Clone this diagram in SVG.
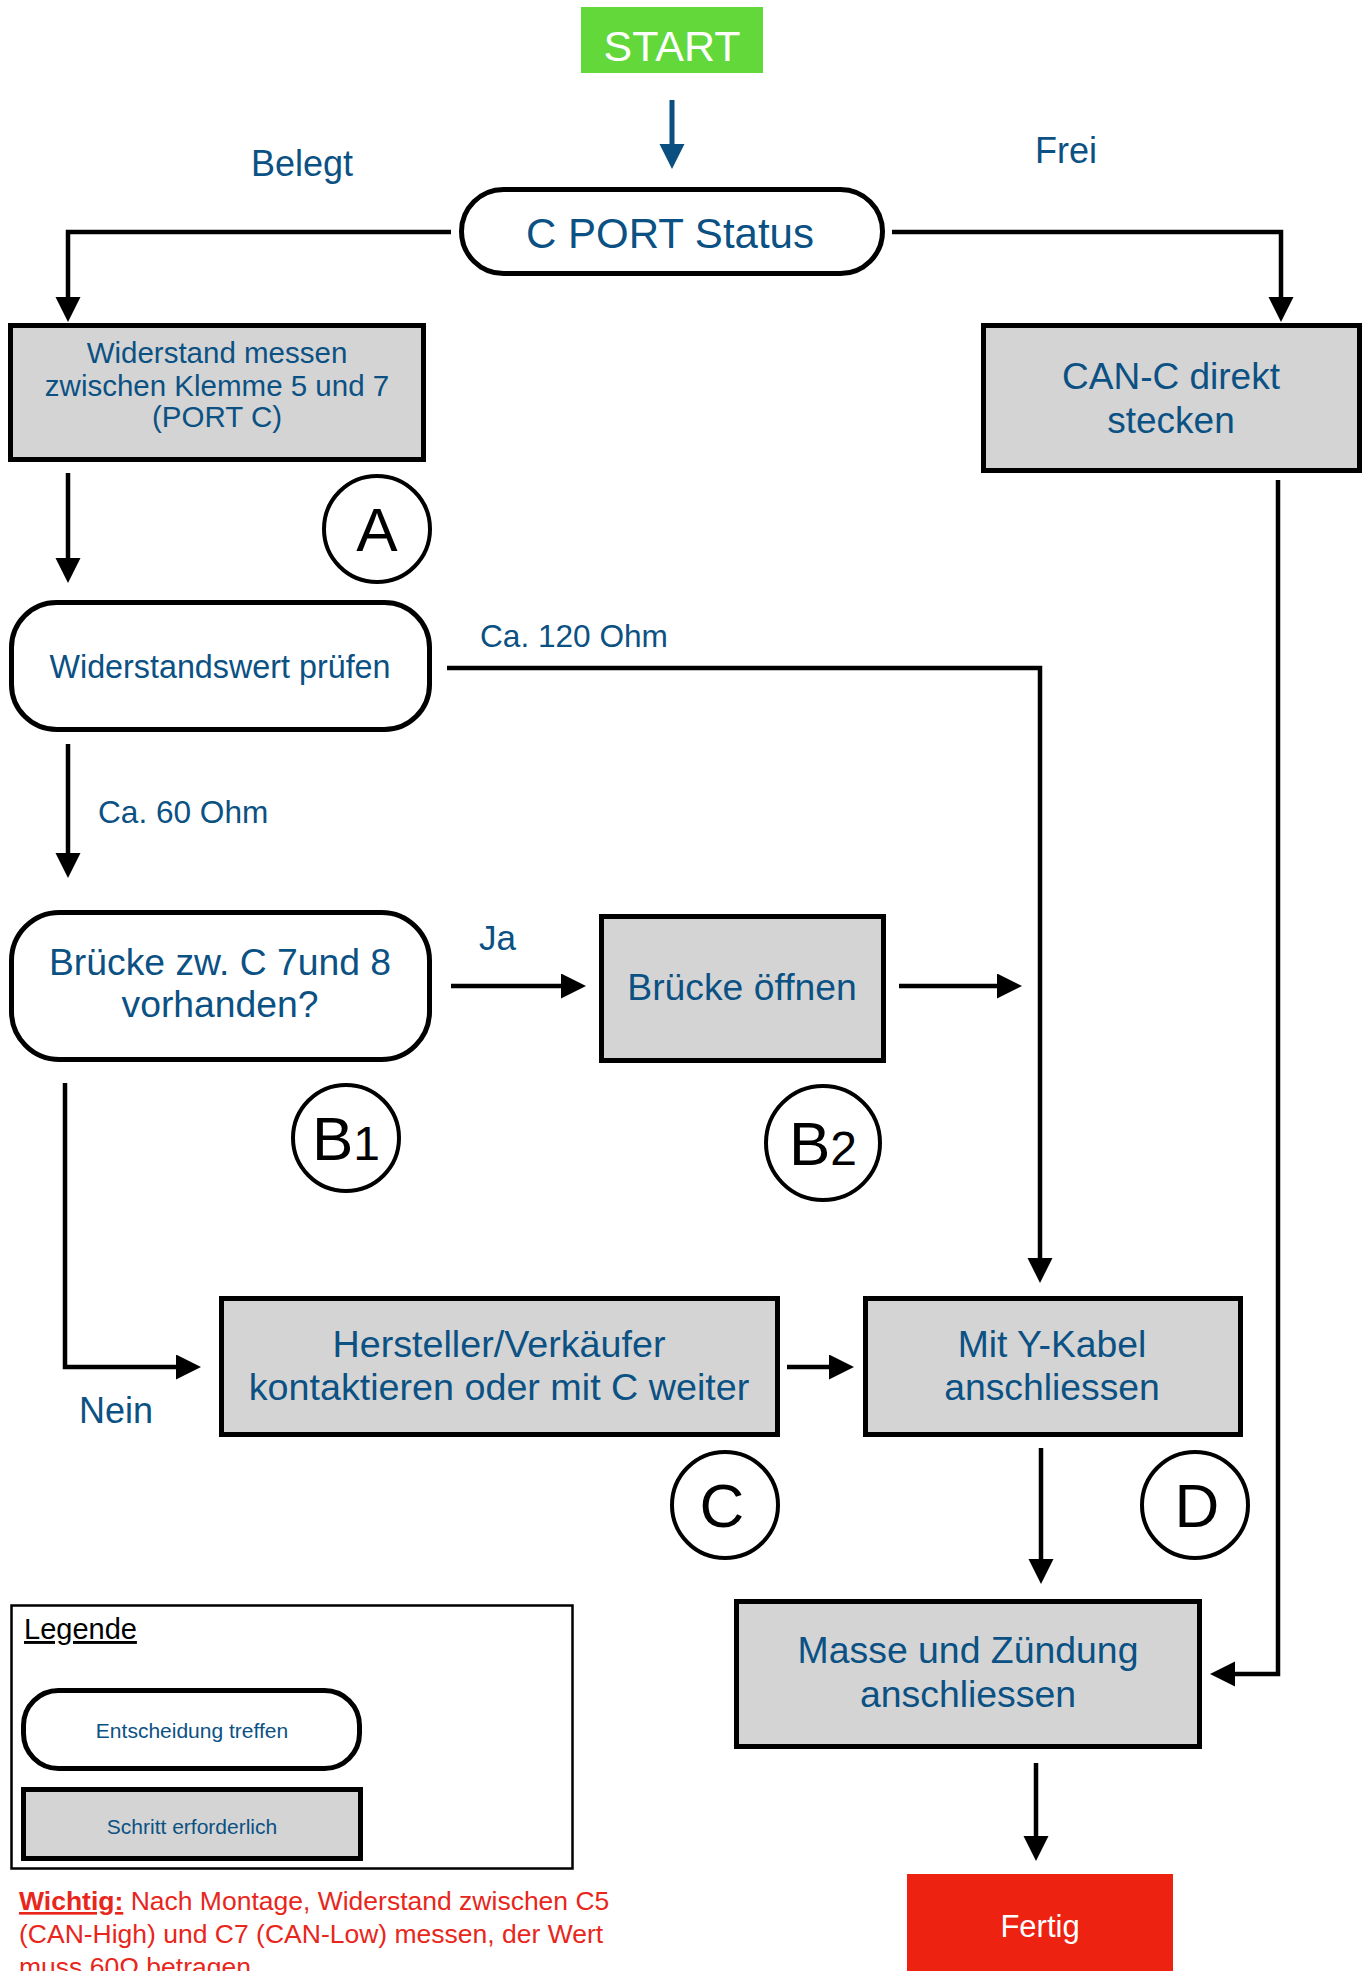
<svg xmlns="http://www.w3.org/2000/svg" width="1368" height="1971" viewBox="0 0 1368 1971">
<style>
text{font-family:"Liberation Sans",Arial,Helvetica,sans-serif;}
.t{fill:#0b5183;text-anchor:middle;}
.lbl{fill:#0b5183;}
.box{fill:#d4d4d4;stroke:#000;stroke-width:5;}
.dec{fill:#fff;stroke:#000;stroke-width:5;}
.circ{fill:#fff;stroke:#000;stroke-width:4;}
.ct{fill:#000;text-anchor:middle;font-size:62px;}
.con{fill:none;stroke:#000;stroke-width:4.5;}
</style>
<defs>
<marker id="ah" markerUnits="userSpaceOnUse" markerWidth="26" markerHeight="26" refX="15" refY="12.5" orient="auto">
<path d="M0,0 L25,12.5 L0,25 z" fill="#000"/>
</marker>
<marker id="ahb" markerUnits="userSpaceOnUse" markerWidth="26" markerHeight="26" refX="15" refY="12.5" orient="auto">
<path d="M0,0 L25,12.5 L0,25 z" fill="#0b4f80"/>
</marker>
</defs>

<g id="connectors">
<path d="M672,100 V159" fill="none" stroke="#0b4f80" stroke-width="5" marker-end="url(#ahb)"/>
<path class="con" d="M451,232 H68 V312" marker-end="url(#ah)"/>
<path class="con" d="M892,232 H1281 V312" marker-end="url(#ah)"/>
<path class="con" d="M68,473 V573" marker-end="url(#ah)"/>
<path class="con" d="M68,744 V868" marker-end="url(#ah)"/>
<path class="con" d="M447,668 H1040 V1273" marker-end="url(#ah)"/>
<path class="con" d="M451,986 H576" marker-end="url(#ah)"/>
<path class="con" d="M899,986 H1012" marker-end="url(#ah)"/>
<path class="con" d="M65,1083 V1367 H191" marker-end="url(#ah)"/>
<path class="con" d="M787,1367 H844" marker-end="url(#ah)"/>
<path class="con" d="M1041,1448 V1574" marker-end="url(#ah)"/>
<path class="con" d="M1278,480 V1674 H1220" marker-end="url(#ah)"/>
<path class="con" d="M1036,1763 V1851" marker-end="url(#ah)"/>
<text class="lbl" x="251" y="176" font-size="36">Belegt</text>
<text class="lbl" x="1035" y="163" font-size="36">Frei</text>
<text class="lbl" x="480" y="647" font-size="31.6">Ca. 120 Ohm</text>
<text class="lbl" x="98" y="823" font-size="31.6">Ca. 60 Ohm</text>
<text class="lbl" x="479" y="950" font-size="35">Ja</text>
<text class="lbl" x="79" y="1423" font-size="36">Nein</text>
</g>

<g id="start">
<rect x="581" y="7" width="182" height="66" fill="#62d83a"/>
<text x="672" y="61" font-size="43" fill="#fff" text-anchor="middle">START</text>
</g>

<g id="cport">
<rect class="dec" x="461.5" y="189.5" width="421" height="84" rx="42"/>
<text class="t" x="670" y="248" font-size="42">C PORT Status</text>
</g>

<g id="messen">
<rect class="box" x="10.5" y="325.5" width="413" height="134"/>
<text class="t" font-size="29.5"><tspan x="217" y="363">Widerstand messen</tspan><tspan x="217" y="396">zwischen Klemme 5 und 7</tspan><tspan x="217" y="427">(PORT C)</tspan></text>
</g>

<g id="canc">
<rect class="box" x="983.5" y="325.5" width="376" height="145"/>
<text class="t" font-size="37"><tspan x="1171" y="389">CAN-C direkt</tspan><tspan x="1171" y="433">stecken</tspan></text>
</g>

<g id="circleA">
<circle class="circ" cx="377" cy="529" r="53"/>
<text class="ct" x="377" y="551">A</text>
</g>

<g id="pruefen">
<rect class="dec" x="11.5" y="602.5" width="418" height="127" rx="45"/>
<text class="t" x="220" y="678" font-size="32.3">Widerstandswert prüfen</text>
</g>

<g id="bruecke">
<rect class="dec" x="11.5" y="912.5" width="418" height="147" rx="48"/>
<text class="t" font-size="37.3"><tspan x="220" y="975">Brücke zw. C 7und 8</tspan><tspan x="220" y="1017">vorhanden?</tspan></text>
</g>

<g id="oeffnen">
<rect class="box" x="601.5" y="916.5" width="282" height="144"/>
<text class="t" x="742" y="1000" font-size="37.3">Brücke öffnen</text>
</g>

<g id="circleB1">
<circle class="circ" cx="346" cy="1138" r="53"/>
<text class="ct" x="346" y="1160">B<tspan font-size="48">1</tspan></text>
</g>

<g id="circleB2">
<circle class="circ" cx="823" cy="1143" r="57"/>
<text class="ct" x="823" y="1165">B<tspan font-size="48">2</tspan></text>
</g>

<g id="hersteller">
<rect class="box" x="221.5" y="1298.5" width="556" height="136"/>
<text class="t" font-size="37.7"><tspan x="499" y="1357">Hersteller/Verkäufer</tspan><tspan x="499" y="1400">kontaktieren oder mit C weiter</tspan></text>
</g>

<g id="ykabel">
<rect class="box" x="865.5" y="1298.5" width="375" height="136"/>
<text class="t" font-size="37.3"><tspan x="1052" y="1357">Mit Y-Kabel</tspan><tspan x="1052" y="1400">anschliessen</tspan></text>
</g>

<g id="circleC">
<circle class="circ" cx="725" cy="1505" r="53"/>
<text class="ct" x="722" y="1527">C</text>
</g>

<g id="circleD">
<circle class="circ" cx="1195" cy="1505" r="53"/>
<text class="ct" x="1197" y="1527">D</text>
</g>

<g id="masse">
<rect class="box" x="736.5" y="1601.5" width="463" height="145"/>
<text class="t" font-size="37.4"><tspan x="968" y="1663">Masse und Zündung</tspan><tspan x="968" y="1707">anschliessen</tspan></text>
</g>

<g id="fertig">
<rect x="907" y="1874" width="266" height="100" fill="#ee2211"/>
<text x="1040" y="1937" font-size="31" fill="#fff" text-anchor="middle">Fertig</text>
</g>

<g id="legende">
<rect x="11.5" y="1605.5" width="561" height="263" fill="#fff" stroke="#000" stroke-width="2.5"/>
<text x="24" y="1639" font-size="29" fill="#000" text-decoration="underline">Legende</text>
<rect class="dec" x="23.5" y="1690.5" width="336" height="78" rx="35"/>
<text class="t" x="192" y="1738" font-size="21">Entscheidung treffen</text>
<rect class="box" x="23.5" y="1789.5" width="337" height="69"/>
<text class="t" x="192" y="1834" font-size="21">Schritt erforderlich</text>
</g>

<g id="hinweis">
<text x="19" y="1910" font-size="26.5" fill="#e8261c"><tspan font-weight="bold" text-decoration="underline">Wichtig:</tspan> Nach Montage, Widerstand zwischen C5</text>
<text x="19" y="1943" font-size="26.5" fill="#e8261c">(CAN-High) und C7 (CAN-Low) messen, der Wert</text>
<text x="19" y="1976" font-size="26.5" fill="#e8261c">muss 60Ω betragen</text>
</g>
</svg>
